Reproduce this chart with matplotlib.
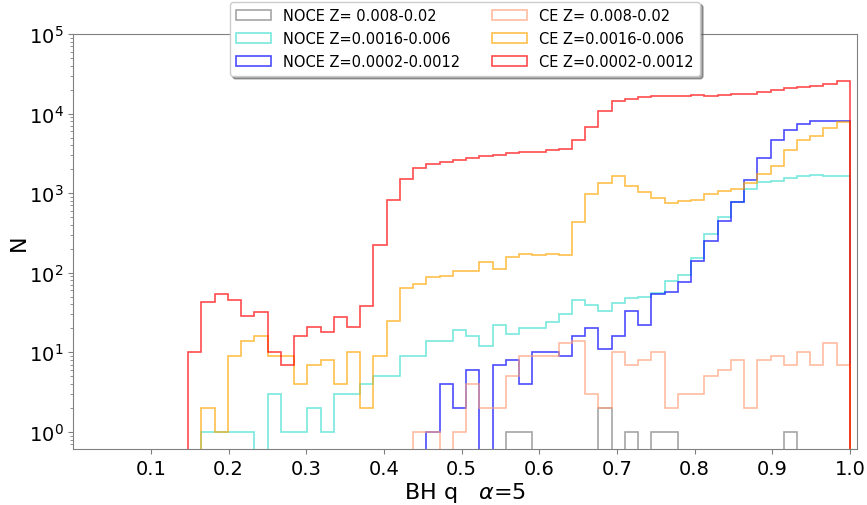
import numpy as np
import matplotlib
matplotlib.use("Agg")
import matplotlib.pyplot as plt

# shared binning in q: 50 bins from the smallest q up to 1
q_edges = np.linspace(0.148, 1.0, 51)

# counts per bin, NOCE channel
noce_high = [0, 0, 0, 0, 0, 0, 0, 0, 0, 0, 0, 0, 0, 0, 0, 0, 0, 0, 0, 0,
             0, 0, 0, 0, 1, 1, 0, 0, 0, 0, 0, 2, 0, 1, 0, 1, 1, 0, 0, 0,
             0, 0, 0, 0, 0, 1, 0, 0, 0, 0]
noce_mid = [0, 1, 1, 1, 1, 0, 3, 1, 1, 2, 1, 3, 3, 4, 5, 5, 9, 9, 14, 14,
            19, 16, 12, 22, 17, 20, 20, 24, 30, 45, 39, 33, 42, 48, 50, 55, 79, 94, 152, 303,
            497, 766, 1127, 1367, 1420, 1535, 1626, 1673, 1640, 1640]
noce_low = [0, 0, 0, 0, 0, 0, 0, 0, 0, 0, 0, 0, 0, 0, 0, 0, 0, 0, 1, 4,
            2, 6, 0, 7, 8, 4, 10, 10, 9, 16, 20, 11, 16, 33, 22, 54, 58, 77, 142, 253,
            443, 780, 1473, 2737, 4645, 6265, 7450, 7980, 8050, 8130]

# counts per bin, CE channel
ce_high = [0, 0, 0, 0, 0, 0, 0, 0, 0, 0, 0, 0, 0, 0, 0, 0, 0, 1, 1, 0,
           1, 4, 2, 2, 5, 9, 9, 9, 13, 14, 3, 2, 10, 7, 8, 10, 2, 3, 3, 5,
           6, 8, 2, 8, 9, 7, 10, 7, 13, 7]
ce_mid = [0, 2, 1, 9, 14, 16, 9, 9, 4, 7, 8, 4, 10, 2, 9, 25, 65, 72, 88, 90,
          104, 104, 136, 113, 159, 170, 169, 171, 168, 440, 966, 1340, 1655, 1228, 1023, 860, 745, 803, 812, 966,
          1072, 1127, 1328, 1754, 2210, 3510, 4690, 5170, 6640, 7750]
ce_low = [10, 43, 54, 45, 29, 32, 10, 7, 16, 21, 18, 28, 21, 38, 221, 826, 1503, 2048, 2321, 2460,
          2580, 2740, 2925, 3035, 3220, 3260, 3280, 3450, 3580, 4700, 6710, 10840, 14200, 15200, 15970, 16600, 16750, 16750, 16900, 16750,
          17070, 17400, 17750, 18460, 19560, 20720, 21530, 21950, 23700, 25340]

labels = ["NOCE Z= 0.008-0.02", "NOCE Z=0.0016-0.006", "NOCE Z=0.0002-0.0012",
          "CE Z= 0.008-0.02", "CE Z=0.0016-0.006", "CE Z=0.0002-0.0012"]
colors = ["gray", "turquoise", "blue", "lightsalmon", "orange", "red"]
series = [noce_high, noce_mid, noce_low, ce_high, ce_mid, ce_low]

fig = plt.figure(figsize=(8.67, 5.06), dpi=100)
ax = fig.add_axes([0.0844, 0.1107, 0.904, 0.8201])

centers = 0.5 * (q_edges[:-1] + q_edges[1:])
for counts, color, label in zip(series, colors, labels):
    ax.hist(centers, bins=q_edges, weights=counts, histtype="step",
            color=color, alpha=0.7, lw=1.2, label=label, log=True)

ax.set_yscale("log")
ax.set_xlim(0, 1.009)
ax.set_ylim(0.61, 1e5)
ax.set_xticks(np.arange(0.1, 1.01, 0.1))
ax.set_xticklabels(["%.1f" % t for t in np.arange(0.1, 1.01, 0.1)])
ax.tick_params(labelsize=14, color="gray")
ax.tick_params(which="minor", color="gray")
for sp in ax.spines.values():
    sp.set_color("gray")

ax.set_xlabel(r"BH q   $\alpha$=5", fontsize=16, labelpad=2)
ax.set_ylabel("N", fontsize=16)
ax.yaxis.set_label_coords(-0.056, 0.5)

ax.legend(ncol=2, loc="upper center", bbox_to_anchor=(0.5, 1.095),
          fontsize=10.5, shadow=True, framealpha=1, columnspacing=2.2,
          handlelength=2.4, borderpad=0.45, labelspacing=0.55)

fig.savefig("out.png", dpi=100)
